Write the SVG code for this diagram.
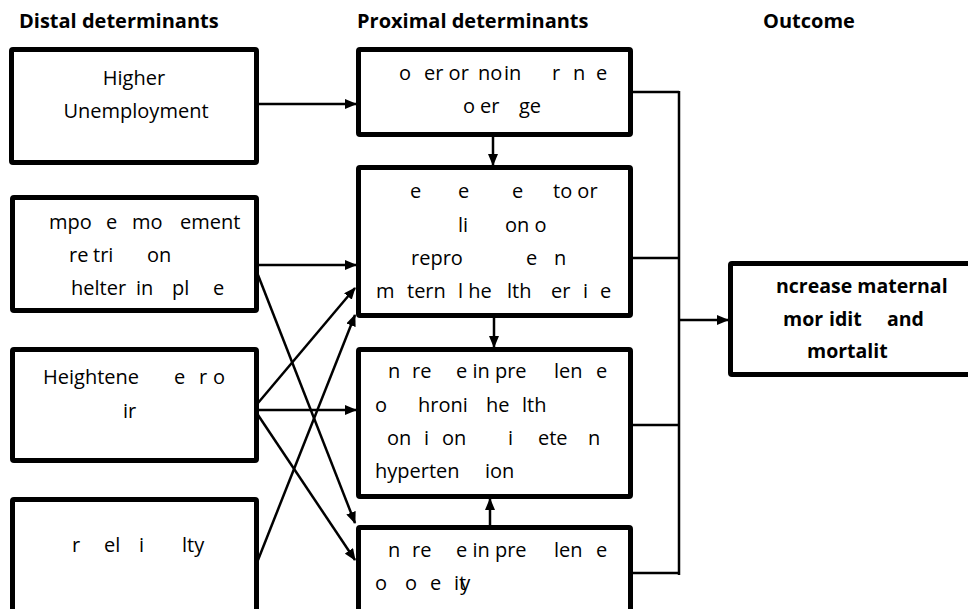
<svg xmlns="http://www.w3.org/2000/svg" width="968" height="609" viewBox="0 0 968 609">
<style>
.box{fill:#fff;stroke:#000;stroke-width:5;}
.t{font-family:"Open Sans","Liberation Sans",sans-serif;font-size:20px;fill:#000;}
.b{font-family:"Open Sans","Liberation Sans",sans-serif;font-size:20px;font-weight:bold;fill:#000;}
.o{font-size:19.5px;}
.c{stroke:#000;stroke-width:2.5;fill:none;}
.a{marker-end:url(#arr);}
</style>
<defs>
<marker id="arr" markerUnits="userSpaceOnUse" markerWidth="12" markerHeight="10" refX="11" refY="5" orient="auto">
<path d="M0,0 L12,5 L0,10 z" fill="#000"/>
</marker>
</defs>
<rect width="968" height="609" fill="#fff"/>
<g id="headers">
<text class="b" x="19" y="28">Distal determinants</text>
<text class="b" x="357" y="28">Proximal determinants</text>
<text class="b" x="763" y="28">Outcome</text>
</g>
<g id="connectors">
<line class="c a" x1="259" y1="104" x2="356" y2="104"/>
<line class="c a" x1="258" y1="265" x2="356" y2="265"/>
<line class="c a" x1="258" y1="275" x2="355" y2="523"/>
<line class="c a" x1="258" y1="403" x2="355" y2="288"/>
<line class="c a" x1="258" y1="410" x2="356" y2="410"/>
<line class="c a" x1="258" y1="415" x2="355" y2="560"/>
<line class="c a" x1="258" y1="560" x2="355" y2="315"/>
<line class="c a" x1="493" y1="137" x2="493" y2="165"/>
<line class="c a" x1="494" y1="318" x2="494" y2="347"/>
<line class="c a" x1="490" y1="525" x2="490" y2="499"/>
<path class="c" d="M633,92 H679 M633,258 H679 M633,425 H679 M633,573 H679 M679,91 V575"/>
<line class="c a" x1="679" y1="320" x2="728" y2="320"/>
</g>
<g id="d1">
<rect class="box" x="11.5" y="49.5" width="245" height="113" rx="1.5"/>
<text class="t" text-anchor="middle" x="134" y="85">Higher</text>
<text class="t" text-anchor="middle" x="136" y="118">Unemployment</text>
</g>
<g id="d2">
<rect class="box" x="12.5" y="197.5" width="244" height="113" rx="1.5"/>
<text class="t" y="229"><tspan x="49">mpo</tspan><tspan x="106">e</tspan><tspan x="132">mo</tspan><tspan x="180">ement</tspan></text>
<text class="t" y="262"><tspan x="69">re</tspan><tspan x="93">tri</tspan><tspan x="147">on</tspan></text>
<text class="t" y="295"><tspan x="71">helter</tspan><tspan x="136">in</tspan><tspan x="172">pl</tspan><tspan x="213">e</tspan></text>
</g>
<g id="d3">
<rect class="box" x="12.5" y="349.5" width="244" height="111" rx="1.5"/>
<text class="t" y="384"><tspan x="43">Heightene</tspan><tspan x="174">e</tspan><tspan x="199">r</tspan><tspan x="213">o</tspan></text>
<text class="t" y="418"><tspan x="123">ir</tspan></text>
</g>
<g id="d4">
<rect class="box" x="12.5" y="499.5" width="244" height="200" rx="1.5"/>
<text class="t" y="552"><tspan x="72">r</tspan><tspan x="104">el</tspan><tspan x="139">i</tspan><tspan x="182">lty</tspan></text>
</g>
<g id="p1">
<rect class="box" x="358.5" y="49.5" width="272" height="85" rx="1.5"/>
<text class="t" y="80"><tspan x="399">o</tspan><tspan x="424">er or</tspan><tspan x="478">no</tspan><tspan x="504">in</tspan><tspan x="552">r</tspan><tspan x="573">n</tspan><tspan x="596">e</tspan></text>
<text class="t" y="113"><tspan x="463">o</tspan><tspan x="480">er</tspan><tspan x="519">ge</tspan></text>
</g>
<g id="p2">
<rect class="box" x="358.5" y="167.5" width="272" height="148" rx="1.5"/>
<text class="t" y="198"><tspan x="410">e</tspan><tspan x="458">e</tspan><tspan x="512">e</tspan><tspan x="553">to or</tspan></text>
<text class="t" y="232"><tspan x="458">li</tspan><tspan x="505">on o</tspan></text>
<text class="t" y="265"><tspan x="411">repro</tspan><tspan x="526">e</tspan><tspan x="554">n</tspan></text>
<text class="t" y="298"><tspan x="376">m</tspan><tspan x="407">tern</tspan><tspan x="458">l he</tspan><tspan x="507">lth</tspan><tspan x="551">er</tspan><tspan x="583">i</tspan><tspan x="600">e</tspan></text>
</g>
<g id="p3">
<rect class="box" x="358.5" y="349.5" width="272" height="147" rx="1.5"/>
<text class="t" y="378"><tspan x="388">n</tspan><tspan x="412">re</tspan><tspan x="456">e in pre</tspan><tspan x="554">len</tspan><tspan x="596">e</tspan></text>
<text class="t" y="412"><tspan x="375">o</tspan><tspan x="418">hroni</tspan><tspan x="486">he</tspan><tspan x="522">lth</tspan></text>
<text class="t" y="445"><tspan x="387">on</tspan><tspan x="424">i</tspan><tspan x="442">on</tspan><tspan x="508">i</tspan><tspan x="538">ete</tspan><tspan x="588">n</tspan></text>
<text class="t" y="478"><tspan x="375">hyperten</tspan><tspan x="485">ion</tspan></text>
</g>
<g id="p4">
<rect class="box" x="358.5" y="527.5" width="272" height="200" rx="1.5"/>
<text class="t" y="557"><tspan x="388">n</tspan><tspan x="412">re</tspan><tspan x="456">e in pre</tspan><tspan x="554">len</tspan><tspan x="596">e</tspan></text>
<text class="t" y="590"><tspan x="375">o</tspan><tspan x="405">o</tspan><tspan x="430">e</tspan><tspan x="454" dx="0 0 -6">ity</tspan></text>
</g>
<g id="outcome">
<rect class="box" x="730.5" y="263.5" width="300" height="111" rx="1.5"/>
<text class="b o" y="293"><tspan x="776">ncrease maternal</tspan></text>
<text class="b o" y="326"><tspan x="783">mor</tspan><tspan x="829">idit</tspan><tspan x="887">and</tspan></text>
<text class="b o" y="358"><tspan x="807">mortalit</tspan></text>
</g>
</svg>
